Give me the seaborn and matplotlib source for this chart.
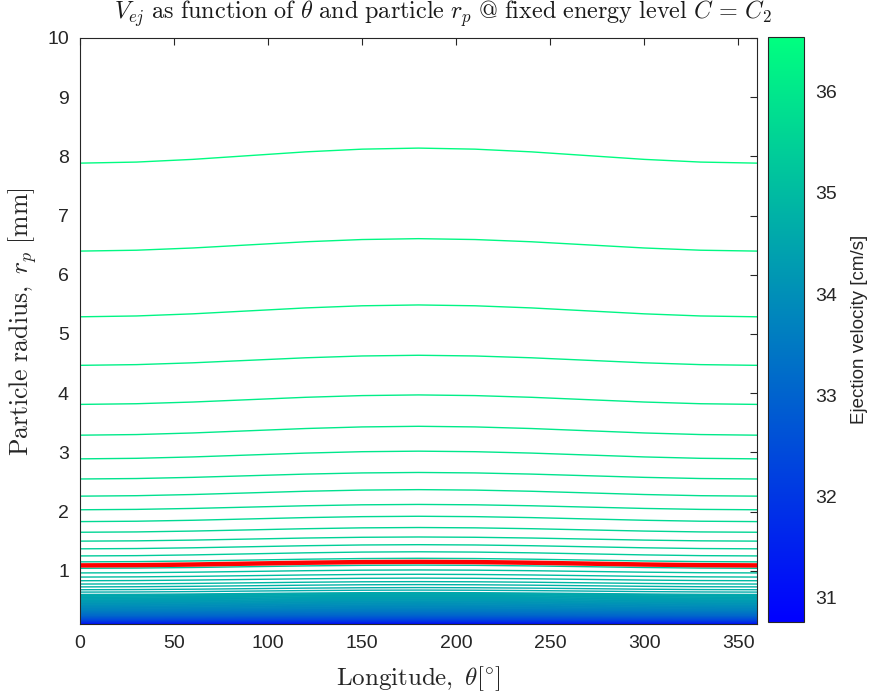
import numpy as np
import matplotlib
matplotlib.use("Agg")
import matplotlib.pyplot as plt
from matplotlib.colors import Normalize
from matplotlib.cm import ScalarMappable
import seaborn as sns

# Longitude samples and the relative bulge of the iso-velocity curves (0 at the edges, 1 at mid-longitude)
lon_deg = [0, 30, 60, 90, 120, 150, 180, 210, 240, 270, 300, 330, 360]
lon_shape = [0.0, 0.07, 0.25, 0.5, 0.75, 0.93, 1.0, 0.93, 0.75, 0.5, 0.25, 0.07, 0.0]

# Particle radius [mm] of each iso-velocity curve at longitude 0 and at longitude 180
rp_lon0 = [10.3, 7.886, 6.40, 5.29, 4.47, 3.81, 3.29, 2.89, 2.55, 2.26, 2.03, 1.83, 1.65,
           1.50, 1.37, 1.25, 1.15, 1.041, 0.963, 0.893, 0.831, 0.775, 0.679, 0.599, 0.477,
           0.353, 0.2515, 0.176, 0.1376, 0.1105, 0.0975, 0.08]
rp_lon180 = [10.6, 8.14, 6.61, 5.49, 4.64, 3.97, 3.44, 3.02, 2.66, 2.37, 2.12, 1.92, 1.73,
             1.57, 1.44, 1.32, 1.21, 1.095, 1.013, 0.94, 0.875, 0.816, 0.715, 0.631, 0.503,
             0.372, 0.265, 0.186, 0.145, 0.1165, 0.103, 0.085]
# Ejection velocity [cm/s] along each of those curves
speed = [36.53, 36.46, 36.381, 36.302, 36.223, 36.144, 36.065, 35.986, 35.907, 35.828, 35.749,
         35.67, 35.591, 35.512, 35.433, 35.354, 35.275, 35.196, 35.117, 35.038, 34.959, 34.88,
         34.722, 34.564, 34.248, 33.774, 33.142, 32.352, 31.72, 31.088, 30.693, 30.30]

# Contour levels and colour range
level_top, level_step, n_levels = 36.46, 0.079, 74
v_min, v_max = 30.76, 36.54
# below this speed the curves crowd into a solid band
dense_below = 34.6

# Highlighted curve at the fixed energy level C = C2
red_rp = [1.09, 1.094, 1.105, 1.12, 1.135, 1.146, 1.15, 1.146, 1.135, 1.12, 1.105, 1.094, 1.09]

sns.set_style("white")
plt.rcParams["font.family"] = ["Liberation Sans", "DejaVu Sans"]
plt.rcParams["mathtext.fontset"] = "cm"

fig = plt.figure(figsize=(8.72, 6.95), dpi=100)
ax = fig.add_axes([80 / 872, 1 - 624 / 695, 677 / 872, 586 / 695])

lon = np.asarray(lon_deg, float)
shape = np.asarray(lon_shape, float)
r0 = np.asarray(rp_lon0, float)
r180 = np.asarray(rp_lon180, float)
X = np.broadcast_to(lon, (len(r0), len(lon)))
Y = r0[:, None] + (r180 - r0)[:, None] * shape[None, :]
Z = np.broadcast_to(np.asarray(speed, float)[:, None], Y.shape)

levels = np.sort(level_top - level_step * np.arange(n_levels))
norm = Normalize(v_min, v_max)
fill_levels = np.concatenate([[29.0], levels[levels <= dense_below]])
ax.contourf(X, Y, Z, levels=fill_levels, cmap="winter", norm=norm, antialiased=True)
ax.contour(X, Y, Z, levels=levels, cmap="winter", norm=norm, linewidths=1.0)

sns.lineplot(x=lon_deg, y=red_rp, color="red", linewidth=3.2, ax=ax)

ax.set_xlim(0, 360)
ax.set_ylim(0.1, 10)
ax.set_xticks(range(0, 351, 50))
ax.set_yticks(range(1, 11))

edge = "0.15"
for sp in ax.spines.values():
    sp.set_visible(True)
    sp.set_color(edge)
    sp.set_linewidth(0.8)
ax.tick_params(direction="in", length=5, width=0.8, color=edge, labelcolor=edge,
               labelsize=14, top=True, right=True, pad=8)

ax.set_xlabel(r"$\mathrm{Longitude,}\ \theta[^{\circ}]$", fontsize=18, color="0.15", labelpad=9)
ax.set_ylabel(r"$\mathrm{Particle\ radius,}\ r_p\ \mathrm{[mm]}$", fontsize=18.5, color="0.15")
ax.yaxis.set_label_coords(-0.061, 0.515)
fig.text(443 / 872, 1 - 14 / 695,
         r"$V_{ej}\ \mathrm{as\ function\ of}\ \theta\ \mathrm{and\ particle}\ r_p\ \mathrm{@\ fixed\ energy\ level}\ C\,=\,C_2$",
         fontsize=17.4, color="0.1", ha="center", va="center")

cax = fig.add_axes([768 / 872, 1 - 622 / 695, 36 / 872, 585 / 695])
cb = fig.colorbar(ScalarMappable(norm=norm, cmap="winter"), cax=cax)
cb.set_ticks([31, 32, 33, 34, 35, 36])
cb.outline.set_edgecolor(edge)
cb.outline.set_linewidth(0.8)
cax.tick_params(direction="in", length=4, width=0.8, color=edge, labelcolor=edge,
                labelsize=14, pad=8)
cb.set_label("Ejection velocity [cm/s]", fontsize=13.5, color=edge, labelpad=10)

fig.savefig("out.png", dpi=100)
